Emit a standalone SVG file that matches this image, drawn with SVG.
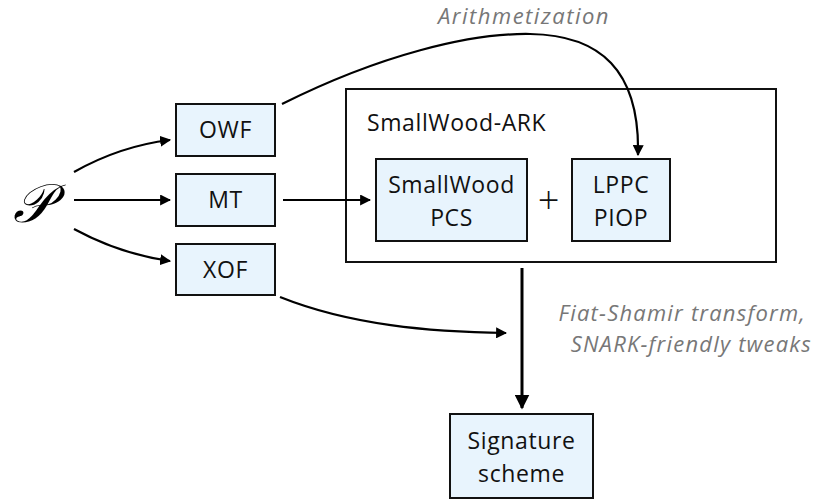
<svg xmlns="http://www.w3.org/2000/svg" width="817" height="502" viewBox="0 0 817 502">
<defs>
<marker id="ah" viewBox="0 0 10 10" refX="9" refY="5" markerWidth="5" markerHeight="5" orient="auto" markerUnits="strokeWidth"><path d="M0,0 L10,5 L0,10 z" fill="#000"/></marker>
<style>
.box{fill:#e8f4fd;stroke:#111;stroke-width:2}
.lbl{font-family:"Open Sans",Lato,"Liberation Sans",sans-serif;font-size:23px;letter-spacing:0.6px;fill:#111;text-anchor:middle}
.note{font-family:"Open Sans",Lato,"Liberation Sans",sans-serif;font-style:italic;font-size:22px;letter-spacing:1.2px;fill:#777}
.con{fill:none;stroke:#000;stroke-width:2.2}
</style>
</defs>
<rect width="817" height="502" fill="#fff"/>
<g id="P"><text x="32" y="222" font-family="DejaVu Serif,'Liberation Serif',serif" font-style="italic" font-size="54" text-anchor="middle" fill="#000">𝒫</text></g>
<g id="ark"><rect x="346" y="89" width="430" height="173" fill="none" stroke="#111" stroke-width="2"/><text x="367" y="131" class="lbl" style="text-anchor:start">SmallWood-ARK</text><text x="549" y="214" class="lbl" style="font-size:38px;font-weight:300">+</text></g>
<g id="owf"><rect class="box" x="176" y="104" width="99" height="52"/><text x="225.5" y="138" class="lbl">OWF</text></g>
<g id="mt"><rect class="box" x="176" y="174" width="99" height="52"/><text x="225.5" y="208" class="lbl">MT</text></g>
<g id="xof"><rect class="box" x="176" y="244" width="99" height="51"/><text x="225.5" y="278" class="lbl">XOF</text></g>
<g id="pcs"><rect class="box" x="376" y="159" width="151" height="82"/><text x="451.5" y="193" class="lbl">SmallWood</text><text x="451.5" y="226" class="lbl">PCS</text></g>
<g id="lppc"><rect class="box" x="572" y="159" width="98" height="82"/><text x="621" y="193" class="lbl">LPPC</text><text x="621" y="226" class="lbl">PIOP</text></g>
<g id="sig"><rect class="box" x="450" y="414" width="143" height="84"/><text x="521.5" y="449" class="lbl">Signature</text><text x="521.5" y="482" class="lbl">scheme</text></g>
<g id="notes">
<text x="524" y="24" class="note" text-anchor="middle" style="letter-spacing:1.5px">Arithmetization</text>
<text x="806" y="321" class="note" text-anchor="end">Fiat-Shamir transform,</text>
<text x="812" y="352" class="note" text-anchor="end">SNARK-friendly tweaks</text>
</g>
<g id="connectors">
<path class="con" d="M74,172 Q120,146 170,140" marker-end="url(#ah)"/>
<path class="con" d="M74,200 L170,200" marker-end="url(#ah)"/>
<path class="con" d="M74,229 Q120,254 170,261" marker-end="url(#ah)"/>
<path class="con" d="M283,200 L370,200" marker-end="url(#ah)"/>
<path class="con" d="M282,104 C380,55 470,33 530,34 C600,35 640,70 638,155" marker-end="url(#ah)"/>
<path class="con" d="M280,297 C350,325 430,332 506,333" marker-end="url(#ah)"/>
<path class="con" d="M522,268 L522,408" style="stroke-width:3" marker-end="url(#ah)"/>
</g>
</svg>
